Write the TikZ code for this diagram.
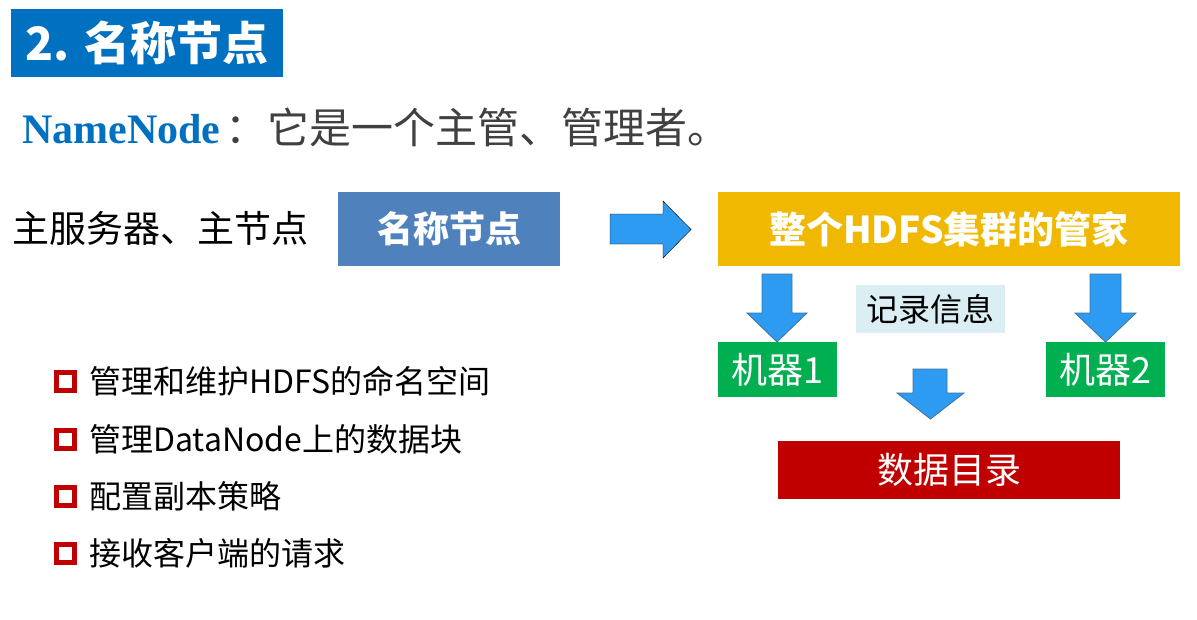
\documentclass[tikz,border=0pt]{standalone}
\usepackage{fontspec}
\setmainfont{Noto Sans CJK SC}
\newfontfamily\timesf{Liberation Serif}
\definecolor{titleblue}{HTML}{0070C0}
\definecolor{darkgray}{HTML}{404040}
\definecolor{boxblue}{HTML}{4F81BD}
\definecolor{goldbox}{HTML}{F0B800}
\definecolor{arrowblue}{HTML}{2E9BF2}
\definecolor{arrowedge}{HTML}{41719C}
\definecolor{greenbox}{HTML}{00B050}
\definecolor{paleblue}{HTML}{DAEEF3}
\definecolor{darkred}{HTML}{C00000}
\newcommand\fsz[1]{\fontsize{#1}{#1}\selectfont}
\tikzset{
  box/.style={inner sep=0pt, outer sep=0pt, text=white},
  blockarrow/.style={fill=arrowblue},
  downarrow/.style={fill=arrowblue, draw=arrowedge, line width=0.8pt},
  bulletsq/.style={draw=darkred, line width=5pt},
  itemtext/.style={anchor=base west, inner sep=0pt, text=black, font=\fsz{32}},
}
\begin{document}
\begin{tikzpicture}[x=1pt,y=-1pt]
\useasboundingbox (0,0) rectangle (1197,619);
% title
\node[box, fill=titleblue, minimum width=272pt, minimum height=68pt, font=\bfseries\fsz{46}] (title) at (147,43) {2. 名称节点};
% NameNode line
\node[anchor=base west, inner sep=0pt, text=darkgray, font=\fsz{42}] (nn) at (22,143) {\textcolor{titleblue}{\timesf\bfseries NameNode}\hspace{5pt}：它是一个主管、管理者。};
% left label
\node[anchor=base west, inner sep=0pt, text=black, font=\fsz{37}] (server) at (12,242) {主服务器、主节点};
% name box
\node[box, fill=boxblue, minimum width=222pt, minimum height=74pt, font=\bfseries\fsz{36}] (namebox) at (449,229) {名称节点};
% right block arrow
\draw[blockarrow] (610,214) -- (663,214) -- (663,201) -- (691,229.5) -- (663,258) -- (663,244) -- (610,244) -- cycle;
% yellow box
\node[box, fill=goldbox, minimum width=462pt, minimum height=74pt, font=\bfseries\fsz{37}] (steward) at (949,229) {整个HDFS集群的管家};
% down arrows
\draw[downarrow] (762,274) -- (792,274) -- (792,313) -- (807,313) -- (777,342) -- (747,313) -- (762,313) -- cycle;
\draw[downarrow] (1090,274) -- (1121,274) -- (1121,313) -- (1136,313) -- (1105.5,342) -- (1075,313) -- (1090,313) -- cycle;
% record info
\node[box, fill=paleblue, text=black, minimum width=149pt, minimum height=48pt, font=\fsz{32}] (record) at (930.5,309) {记录信息};
% machines
\node[box, fill=greenbox, minimum width=119pt, minimum height=55pt, font=\fsz{36}] (m1) at (777.5,369.5) {机器1};
\node[box, fill=greenbox, minimum width=119pt, minimum height=55pt, font=\fsz{36}] (m2) at (1105.5,369.5) {机器2};
% middle down arrow
\draw[downarrow] (913,369) -- (947,369) -- (947,393) -- (964,393) -- (930.5,419) -- (897,393) -- (913,393) -- cycle;
% data directory
\node[box, fill=darkred, minimum width=342pt, minimum height=58pt, font=\fsz{36}] (dir) at (949,470) {数据目录};
% bullets
\draw[bulletsq] (56.5,372.5) rectangle (74.5,390.5);
\draw[bulletsq] (56.5,430.5) rectangle (74.5,448.5);
\draw[bulletsq] (56.5,487.5) rectangle (74.5,505.5);
\draw[bulletsq] (56.5,544.5) rectangle (74.5,562.5);
\node[itemtext] (i1) at (89,393) {管理和维护HDFS的命名空间};
\node[itemtext] (i2) at (89,451) {管理DataNode上的数据块};
\node[itemtext] (i3) at (89,508) {配置副本策略};
\node[itemtext] (i4) at (89,565) {接收客户端的请求};
\end{tikzpicture}
\end{document}
